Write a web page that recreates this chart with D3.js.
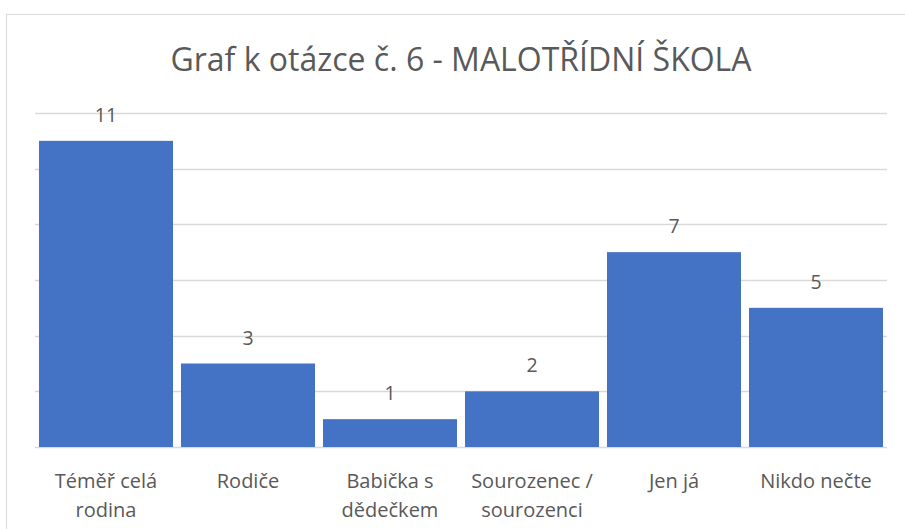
<!DOCTYPE html>
<html>
<head>
<meta charset="utf-8">
<script src="https://cdn.jsdelivr.net/npm/d3@7"></script>
<style>
  body { margin: 0; background: #fff; }
  text { font-family: "Open Sans", Lato, sans-serif; fill: #595959; }
</style>
</head>
<body>
<svg id="chart" width="905" height="529"></svg>
<script>
// chart data
const categories = ["Téměř celá rodina", "Rodiče", "Babička s dědečkem", "Sourozenec / sourozenci", "Jen já", "Nikdo nečte"];
const values = [11, 3, 1, 2, 7, 5];
const yTicks = [0, 2, 4, 6, 8, 10, 12];
const title = "Graf k otázce č. 6 - MALOTŘÍDNÍ ŠKOLA";

const svg = d3.select("#chart");

// outer frame (runs off the right and bottom edges)
svg.append("rect")
    .attr("x", 6.5).attr("y", 14.5)
    .attr("width", 920).attr("height", 540)
    .attr("fill", "none")
    .attr("stroke", "#d9d9d9");

const margin = {top: 113, right: 18, bottom: 82, left: 35};
const width = 905 - margin.left - margin.right;
const height = 529 - margin.top - margin.bottom;

const g = svg.append("g")
    .attr("transform", "translate(" + margin.left + "," + margin.top + ")");

const x = d3.scaleBand()
    .domain(categories)
    .range([0, width])
    .paddingInner(0.056)
    .paddingOuter(0.028);

const y = d3.scaleLinear()
    .domain([0, 12])
    .range([height, 0]);

// gridlines
g.selectAll(".grid")
    .data(yTicks)
    .enter().append("line")
    .attr("x1", 0).attr("x2", width)
    .attr("y1", d => Math.round(y(d)) + 0.5)
    .attr("y2", d => Math.round(y(d)) + 0.5)
    .attr("stroke", "#d9d9d9")
    .attr("stroke-width", 1.3);

// bars
g.selectAll(".bar")
    .data(values)
    .enter().append("rect")
    .attr("class", "bar")
    .attr("x", (d, i) => x(categories[i]))
    .attr("y", d => y(d))
    .attr("width", x.bandwidth())
    .attr("height", d => height - y(d))
    .attr("fill", "#4472c4");

// value labels
g.selectAll(".val")
    .data(values)
    .enter().append("text")
    .attr("x", (d, i) => x(categories[i]) + x.bandwidth() / 2)
    .attr("y", d => y(d) - 19)
    .attr("text-anchor", "middle")
    .style("font-size", "19.5px")
    .text(d => d);

// category labels, wrapped to the band width
const xAxis = g.append("g")
    .attr("transform", "translate(0," + height + ")");

categories.forEach(function(c) {
    const cx = x(c) + x.bandwidth() / 2;
    const t = xAxis.append("text")
        .attr("text-anchor", "middle")
        .style("font-size", "20px")
        .attr("x", cx)
        .attr("y", 41);
    const words = c.split(" ");
    let line = [];
    let tspan = t.append("tspan").attr("x", cx).attr("dy", 0);
    words.forEach(function(w) {
        line.push(w);
        tspan.text(line.join(" "));
        if (tspan.node().getComputedTextLength() > x.bandwidth() - 8 && line.length > 1) {
            line.pop();
            tspan.text(line.join(" "));
            line = [w];
            tspan = t.append("tspan").attr("x", cx).attr("dy", 29).text(w);
        }
    });
});

// title
svg.append("text")
    .attr("x", margin.left + width / 2)
    .attr("y", 71)
    .attr("text-anchor", "middle")
    .style("font-size", "32px")
    .text(title);
</script>
</body>
</html>
